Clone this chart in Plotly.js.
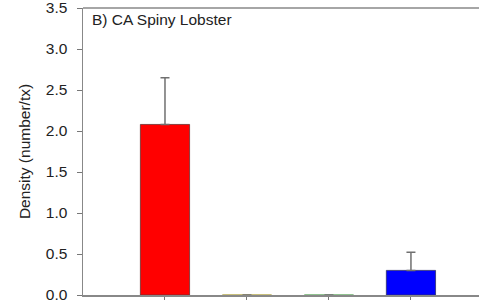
<!DOCTYPE html>
<html><head><meta charset="utf-8">
<script src="https://cdn.plot.ly/plotly-3.0.1.min.js"></script>
<style>html,body{margin:0;padding:0;background:#fff;}#chart{width:479px;height:300px;}</style>
</head><body><div id="chart"></div>
<script>
var categories = ['A', 'B', 'C', 'D'];
var densities = [2.08, 0, 0, 0.30];
var errorsUp = [0.57, 0, 0, 0.22];
var barColors = ['#ff0000', '#c8b400', '#00a000', '#0000ff'];
var barEdgeColors = ['#6a3030', '#a89a30', '#50a050', '#30306a'];
var tickVals = [0, 0.5, 1.0, 1.5, 2.0, 2.5, 3.0, 3.5];
var tickText = ['0.0', '0.5', '1.0', '1.5', '2.0', '2.5', '3.0', '3.5'];

var xs = categories.map(function(c, i){ return i; });
var trace = {
  type: 'bar', x: xs, y: densities, width: 0.6,
  marker: {color: barColors, line: {color: barEdgeColors, width: 0.8}},
  error_y: {type: 'data', symmetric: false, array: errorsUp,
    arrayminus: densities.map(function(){return 0;}),
    color: '#707070', thickness: 1.5, width: 4.5, visible: true},
  hoverinfo: 'none'
};
var layout = {
  width: 479, height: 300,
  margin: {l: 83, r: 0, t: 8, b: 5},
  paper_bgcolor: '#fff', plot_bgcolor: '#fff',
  showlegend: false,
  font: {family: 'Liberation Sans, Arial, sans-serif', size: 15.5, color: '#222'},
  xaxis: {range: [-1, 3.83], tickvals: xs, ticktext: ['', '', '', ''],
    ticks: 'outside', ticklen: 5, tickcolor: '#777', tickwidth: 1,
    showgrid: false, zeroline: false, showline: true, linecolor: '#888', linewidth: 1.5,
    mirror: false, fixedrange: true},
  yaxis: {range: [0, 3.5], tickvals: tickVals, ticktext: tickText,
    ticks: 'outside', ticklen: 5, tickcolor: '#777', tickwidth: 1,
    ticklabelstandoff: 6, ticklabeloverflow: 'allow',
    showgrid: false, zeroline: false, showline: true, linecolor: '#888', linewidth: 1.5,
    tickfont: {size: 15.5, color: '#222'},
    title: {text: 'Density (number/tx)', font: {size: 15.5, color: '#222'}, standoff: 11}},
  shapes: [{type: 'line', xref: 'paper', yref: 'paper', x0: 0, x1: 1, y0: 1, y1: 1,
    line: {color: '#888', width: 1.5}}],
  annotations: [{text: 'B) CA Spiny Lobster', xref: 'paper', yref: 'paper', x: 0.017, y: 0.995,
    xanchor: 'left', yanchor: 'top', showarrow: false, font: {size: 15.5, color: '#222'}}]
};
Plotly.newPlot('chart', [trace], layout, {displayModeBar: false, staticPlot: true});
</script></body></html>
